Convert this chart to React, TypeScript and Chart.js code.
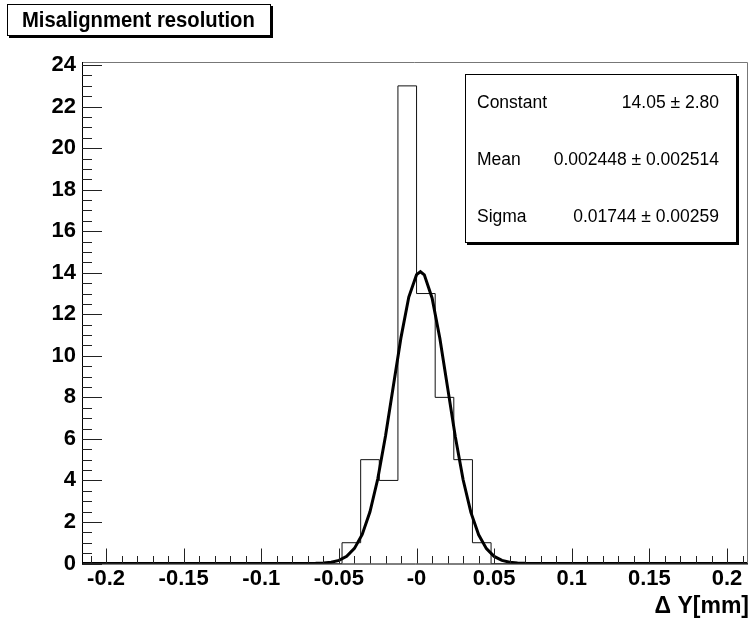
import React, { useEffect, useRef } from "react";
import { Chart, registerables } from "chart.js";

Chart.register(...registerables);

// ---- data ----
const binEdges = [-0.048, -0.036, -0.024, -0.012, 0, 0.012, 0.024, 0.036, 0.048];
const binCounts = [1, 5, 4, 23, 13, 8, 5, 1];

const fitX = [-0.2155, -0.1, -0.07, -0.065, -0.06, -0.055, -0.05, -0.045, -0.04, -0.035, -0.03, -0.025, -0.02, -0.015, -0.01, -0.005, 0, 0.0025, 0.005, 0.01, 0.015, 0.02, 0.025, 0.03, 0.035, 0.04, 0.045, 0.05, 0.055, 0.06, 0.065, 0.07, 0.075, 0.1, 0.2135];
const fitY = [0, 0, 0.002, 0.008, 0.023, 0.062, 0.152, 0.347, 0.727, 1.4, 2.49, 4.07, 6.14, 8.52, 10.89, 12.83, 13.91, 14.05, 13.9, 12.79, 10.85, 8.47, 6.09, 4.03, 2.46, 1.38, 0.716, 0.341, 0.15, 0.061, 0.023, 0.008, 0.003, 0, 0];

const xMin = -0.2155;
const xMax = 0.2135;
const yMin = 0;
const yMax = 24.15;

const xTickValues = [-0.2, -0.15, -0.1, -0.05, 0, 0.05, 0.1, 0.15, 0.2];
const xTickLabels = ["-0.2", "-0.15", "-0.1", "-0.05", "-0", "0.05", "0.1", "0.15", "0.2"];
const yTickValues = [0, 2, 4, 6, 8, 10, 12, 14, 16, 18, 20, 22, 24];
const yTickLabels = ["0", "2", "4", "6", "8", "10", "12", "14", "16", "18", "20", "22", "24"];

const titleText = "Misalignment resolution";
const xAxisTitle = "\u0394 Y[mm]";
const statNames = ["Constant", "Mean", "Sigma"];
const statValues = ["14.05 \u00b1 2.80", "0.002448 \u00b1 0.002514", "0.01744 \u00b1 0.00259"];

const FONT = "'Liberation Sans', Arial, Helvetica, sans-serif";

function drawShadowBox(ctx: CanvasRenderingContext2D, x: number, y: number, w: number, h: number) {
  ctx.save();
  ctx.fillStyle = "#000";
  ctx.fillRect(x + 2, y + 2, w, h);
  ctx.fillStyle = "#fff";
  ctx.fillRect(x, y, w, h);
  ctx.strokeStyle = "#000";
  ctx.lineWidth = 1;
  ctx.strokeRect(x + 0.5, y + 0.5, w - 1, h - 1);
  ctx.restore();
}

const rootDecor = {
  id: "rootDecor",
  afterDatasetsDraw(chart: any) {
    const ctx: CanvasRenderingContext2D = chart.ctx;
    const { left, right, top, bottom } = chart.chartArea;
    const xs = chart.scales.x;
    const ys = chart.scales.y;
    ctx.save();
    // frame
    ctx.strokeStyle = "#777";
    ctx.lineWidth = 1;
    ctx.beginPath();
    ctx.moveTo(left, top + 0.5);
    ctx.lineTo(right - 0.5, top + 0.5);
    ctx.lineTo(right - 0.5, bottom);
    ctx.stroke();
    ctx.strokeStyle = "#000";
    ctx.beginPath();
    ctx.moveTo(left + 0.5, top);
    ctx.lineTo(left + 0.5, bottom + 0.5);
    ctx.lineTo(right, bottom + 0.5);
    ctx.stroke();
    // x ticks
    ctx.strokeStyle = "#222";
    ctx.beginPath();
    for (let k = -25; k <= 25; k++) {
      const v = k * 0.01;
      if (v < xMin || v > xMax) continue;
      const px = Math.round(xs.getPixelForValue(v)) + 0.5;
      const len = k % 5 === 0 ? 15 : 7.5;
      ctx.moveTo(px, bottom);
      ctx.lineTo(px, bottom - len);
    }
    // y ticks
    for (let k = 0; k <= 48; k++) {
      const v = k * 0.5;
      if (v > yMax) continue;
      const py = Math.round(ys.getPixelForValue(v)) + 0.5;
      const len = k % 4 === 0 ? 20 : 10;
      ctx.moveTo(left, py);
      ctx.lineTo(left + len, py);
    }
    ctx.stroke();
    ctx.restore();
  },
  afterDraw(chart: any) {
    const ctx: CanvasRenderingContext2D = chart.ctx;
    ctx.save();
    // title box
    drawShadowBox(ctx, 7, 4, 264, 32);
    ctx.fillStyle = "#000";
    ctx.textAlign = "left";
    ctx.textBaseline = "middle";
    ctx.save();
    ctx.translate(22, 20.5);
    ctx.scale(0.92, 1);
    ctx.font = `bold 22px ${FONT}`;
    ctx.fillText(titleText, 0, 0);
    ctx.restore();
    // stats box
    drawShadowBox(ctx, 465, 74, 272, 169);
    ctx.font = `17.5px ${FONT}`;
    const rowsY = [103, 160, 217];
    for (let i = 0; i < statNames.length; i++) {
      ctx.textAlign = "left";
      ctx.fillText(statNames[i], 477, rowsY[i]);
      ctx.textAlign = "right";
      ctx.fillText(statValues[i], 719, rowsY[i]);
    }
    // x axis title
    ctx.font = `bold 23px ${FONT}`;
    ctx.textAlign = "right";
    ctx.fillText(xAxisTitle, 749, 607);
    ctx.restore();
  },
};

export default function App() {
  const canvasRef = useRef<HTMLCanvasElement | null>(null);

  useEffect(() => {
    document.body.style.margin = "0";
    const canvas = canvasRef.current;
    if (!canvas) return;

    const histPoints: { x: number; y: number }[] = [{ x: xMin, y: 0 }];
    for (let i = 0; i < binCounts.length; i++) {
      histPoints.push({ x: binEdges[i], y: binCounts[i] });
    }
    histPoints.push({ x: binEdges[binEdges.length - 1], y: 0 });
    histPoints.push({ x: xMax, y: 0 });

    const fitPoints = fitX.map((x, i) => ({ x, y: fitY[i] }));

    const chart = new Chart(canvas, {
      type: "line",
      data: {
        datasets: [
          {
            label: "gaus",
            data: fitPoints,
            borderColor: "#000",
            borderWidth: 3,
            pointRadius: 0,
            tension: 0,
            fill: false,
            order: 0,
          },
          {
            label: "hist",
            data: histPoints,
            borderColor: "#111",
            borderWidth: 1,
            pointRadius: 0,
            stepped: "before",
            fill: false,
            order: 1,
          },
        ],
      },
      options: {
        responsive: false,
        animation: false,
        events: [],
        layout: { padding: { left: 0, top: 62, right: 4, bottom: 0 } },
        plugins: {
          legend: { display: false },
          tooltip: { enabled: false },
          title: { display: false },
        },
        scales: {
          x: {
            type: "linear",
            min: xMin,
            max: xMax,
            grid: { display: false, drawTicks: false },
            border: { display: false },
            afterBuildTicks: (axis: any) => {
              axis.ticks = xTickValues.map((v) => ({ value: v }));
            },
            afterFit: (axis: any) => {
              axis.height = 62.5;
            },
            ticks: {
              autoSkip: false,
              maxRotation: 0,
              padding: 2,
              color: "#000",
              font: { family: FONT, size: 22, weight: "bold" },
              callback: (_v: any, i: number) => xTickLabels[i],
            },
          },
          y: {
            type: "linear",
            min: yMin,
            max: yMax,
            grid: { display: false, drawTicks: false },
            border: { display: false },
            afterBuildTicks: (axis: any) => {
              axis.ticks = yTickValues.map((v) => ({ value: v }));
            },
            afterFit: (axis: any) => {
              axis.width = 82;
            },
            ticks: {
              autoSkip: false,
              padding: 6,
              color: "#000",
              font: { family: FONT, size: 22, weight: "bold" },
              callback: (_v: any, i: number) => yTickLabels[i],
            },
          },
        },
      },
      plugins: [rootDecor],
    });

    return () => chart.destroy();
  }, []);

  return (
    <div style={{ position: "fixed", left: 0, top: 0, width: 752, height: 626, background: "#fff" }}>
      <canvas ref={canvasRef} width={752} height={626} style={{ display: "block" }} />
    </div>
  );
}
